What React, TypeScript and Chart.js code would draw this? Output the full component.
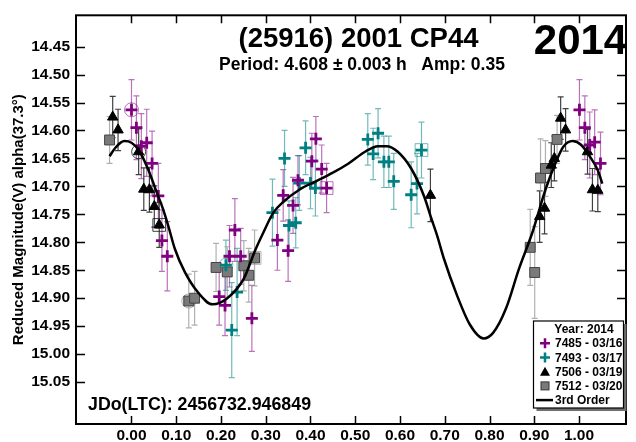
import React, { useEffect, useRef } from 'react';
import { Chart, registerables } from 'chart.js';

Chart.register(...registerables);

const FONT = '"Liberation Sans", Arial, Helvetica, sans-serif';

// ---- axis ticks ----
const X_TICKS = [0, 0.1, 0.2, 0.3, 0.4, 0.5, 0.6, 0.7, 0.8, 0.9, 1.0];
const Y_TICKS = [14.45, 14.5, 14.55, 14.6, 14.65, 14.7, 14.75, 14.8, 14.85, 14.9, 14.95, 15.0, 15.05];

// ---- session 7485 (03/16) ----
const s7485Phase = [0.0, 0.011, 0.022, 0.034, 0.046, 0.06, 0.068, 0.08, 0.196, 0.209, 0.219, 0.231, 0.244, 0.269, 0.326, 0.339, 0.35, 0.361, 0.372, 0.403, 0.412, 0.425, 0.436, 1.001, 1.013, 1.024, 1.035, 1.048];
const s7485Mag = [14.563, 14.595, 14.628, 14.622, 14.659, 14.717, 14.797, 14.825, 14.897, 14.913, 14.825, 14.778, 14.825, 14.936, 14.796, 14.716, 14.815, 14.734, 14.689, 14.655, 14.615, 14.669, 14.703, 14.563, 14.595, 14.626, 14.621, 14.659];
const s7485Err = [0.054, 0.057, 0.058, 0.06, 0.058, 0.058, 0.055, 0.062, 0.051, 0.054, 0.055, 0.056, 0.05, 0.059, 0.054, 0.046, 0.055, 0.05, 0.044, 0.05, 0.04, 0.043, 0.044, 0.054, 0.057, 0.059, 0.058, 0.056];

// ---- session 7493 (03/17) ----
const s7493Phase = [0.211, 0.224, 0.236, 0.315, 0.342, 0.352, 0.367, 0.375, 0.389, 0.4, 0.411, 0.528, 0.54, 0.551, 0.564, 0.575, 0.586, 0.625, 0.638, 0.648];
const s7493Mag = [14.841, 14.957, 14.889, 14.747, 14.65, 14.77, 14.765, 14.694, 14.631, 14.694, 14.703, 14.616, 14.642, 14.605, 14.656, 14.656, 14.691, 14.715, 14.695, 14.635];
const s7493Err = [0.045, 0.085, 0.078, 0.06, 0.05, 0.044, 0.045, 0.049, 0.048, 0.046, 0.05, 0.046, 0.046, 0.044, 0.046, 0.046, 0.05, 0.059, 0.054, 0.05];

// ---- session 7506 (03/19) ----
const s7506Phase = [-0.042, -0.03, 0.016, 0.0275, 0.04, 0.051, 0.062, 0.668, 0.912, 0.923, 0.938, 0.945, 0.959, 0.97, 1.019, 1.03, 1.042];
const s7506Mag = [14.576, 14.599, 14.638, 14.705, 14.706, 14.736, 14.769, 14.716, 14.754, 14.739, 14.662, 14.65, 14.578, 14.599, 14.638, 14.706, 14.707];
const s7506Err = [0.037, 0.037, 0.041, 0.038, 0.04, 0.037, 0.04, 0.047, 0.046, 0.046, 0.04, 0.04, 0.038, 0.038, 0.04, 0.038, 0.038];

// ---- session 7512 (03/20) ----
const s7512Phase = [-0.049, 0.128, 0.141, 0.189, 0.214, 0.251, 0.262, 0.275, 0.891, 0.901, 0.914, 0.925, 0.951];
const s7512Mag = [14.617, 14.905, 14.9, 14.845, 14.853, 14.842, 14.859, 14.828, 14.809, 14.854, 14.685, 14.668, 14.616];
const s7512Err = [0.042, 0.048, 0.048, 0.043, 0.045, 0.045, 0.048, 0.05, 0.068, 0.082, 0.07, 0.05, 0.043];

// ---- 3rd order fit curve ----
const fitPhase = [-0.049, -0.035, -0.016, 0.0, 0.016, 0.038, 0.057, 0.068, 0.082, 0.097, 0.119, 0.148, 0.181, 0.214, 0.251, 0.276, 0.295, 0.317, 0.339, 0.375, 0.412, 0.449, 0.485, 0.522, 0.551, 0.57, 0.595, 0.625, 0.654, 0.669, 0.683, 0.698, 0.727, 0.756, 0.787, 0.808, 0.837, 0.866, 0.896, 0.925, 0.947, 0.965, 0.986, 1.005, 1.027, 1.042, 1.052];
const fitMag = [14.646, 14.63, 14.619, 14.622, 14.635, 14.671, 14.712, 14.735, 14.77, 14.812, 14.853, 14.889, 14.911, 14.9, 14.865, 14.815, 14.782, 14.747, 14.728, 14.706, 14.691, 14.676, 14.659, 14.638, 14.628, 14.628, 14.638, 14.668, 14.718, 14.755, 14.788, 14.829, 14.894, 14.947, 14.972, 14.962, 14.918, 14.847, 14.782, 14.706, 14.659, 14.629, 14.619, 14.626, 14.65, 14.671, 14.695];

// session first / last point highlights (series key, index)
const circledPoints: [string, number][] = [['7485', 0], ['7493', 0], ['7506', 2], ['7512', 1]];
const boxedPoints: [string, number][] = [['7485', 22], ['7493', 19], ['7506', 6], ['7512', 7]];

const SERIES = [
  { key: '7485', label: '7485 - 03/16', phase: s7485Phase, mag: s7485Mag, err: s7485Err, color: '#800080', errColor: 'rgba(128,0,128,0.55)', style: 'cross' },
  { key: '7493', label: '7493 - 03/17', phase: s7493Phase, mag: s7493Mag, err: s7493Err, color: '#008080', errColor: 'rgba(0,128,128,0.55)', style: 'cross' },
  { key: '7506', label: '7506 - 03/19', phase: s7506Phase, mag: s7506Mag, err: s7506Err, color: '#000000', errColor: 'rgba(30,30,30,0.85)', style: 'triangle' },
  { key: '7512', label: '7512 - 03/20', phase: s7512Phase, mag: s7512Mag, err: s7512Err, color: '#7a7a7a', errColor: 'rgba(150,150,150,0.75)', style: 'rect' },
];

const TITLE = '(25916) 2001 CP44';
const SUBTITLE = 'Period: 4.608 \u00b1 0.003 h   Amp: 0.35';
const YEAR = '2014';
const JD_TEXT = 'JDo(LTC): 2456732.946849';
const Y_TITLE = 'Reduced Magnitude(V) alpha(37.3\u00b0)';
const LEGEND_TITLE = 'Year: 2014';
const FIT_LABEL = '3rd Order';

const seriesByKey = (k: string) => SERIES.find((s) => s.key === k)!;

const decorPlugin = {
  id: 'decor',
  beforeDatasetsDraw(chart: any) {
    const { ctx, chartArea, scales } = chart;
    const x = scales.x;
    const y = scales.y;
    ctx.save();
    ctx.beginPath();
    ctx.rect(chartArea.left, chartArea.top, chartArea.right - chartArea.left, chartArea.bottom - chartArea.top);
    ctx.clip();
    chart.data.datasets.forEach((ds: any) => {
      if (!ds.errors) return;
      ctx.strokeStyle = ds.errColor;
      ctx.lineWidth = 1.2;
      ds.data.forEach((p: any, i: number) => {
        const px = x.getPixelForValue(p.x);
        const y1 = y.getPixelForValue(p.y - ds.errors[i]);
        const y2 = y.getPixelForValue(p.y + ds.errors[i]);
        ctx.beginPath();
        ctx.moveTo(px, y1);
        ctx.lineTo(px, y2);
        ctx.moveTo(px - 3, y1);
        ctx.lineTo(px + 3, y1);
        ctx.moveTo(px - 3, y2);
        ctx.lineTo(px + 3, y2);
        ctx.stroke();
      });
    });
    ctx.restore();
  },
  afterDraw(chart: any) {
    const { ctx, chartArea, scales } = chart;
    const x = scales.x;
    const y = scales.y;
    const { left, right, top, bottom } = chartArea;
    ctx.save();
    // inner tick marks
    ctx.strokeStyle = '#000';
    ctx.lineWidth = 1.5;
    ctx.beginPath();
    X_TICKS.forEach((v) => {
      const px = Math.round(x.getPixelForValue(v)) + 0.5;
      ctx.moveTo(px, bottom);
      ctx.lineTo(px, bottom - 8);
      ctx.moveTo(px, top);
      ctx.lineTo(px, top + 8);
    });
    Y_TICKS.forEach((v) => {
      const py = Math.round(y.getPixelForValue(v)) + 0.5;
      ctx.moveTo(left, py);
      ctx.lineTo(left + 9, py);
      ctx.moveTo(right, py);
      ctx.lineTo(right - 9, py);
    });
    ctx.stroke();
    // frame
    ctx.lineWidth = 2;
    ctx.strokeRect(left, top, right - left, bottom - top);

    // titles
    ctx.fillStyle = '#000';
    ctx.textBaseline = 'alphabetic';
    ctx.textAlign = 'center';
    ctx.font = `bold 27.5px ${FONT}`;
    ctx.fillText(TITLE, 358.5, 47);
    ctx.font = `bold 17.5px ${FONT}`;
    ctx.fillText(SUBTITLE, 362, 69.5);
    ctx.font = `bold 42px ${FONT}`;
    ctx.fillText(YEAR, 580.5, 53.5);
    ctx.textAlign = 'left';
    ctx.font = `bold 17.8px ${FONT}`;
    ctx.fillText(JD_TEXT, 88, 409.5);

    // legend
    const lx = 533.5, ly = 321, lw = 90, lh = 87;
    ctx.fillStyle = '#6e6e6e';
    ctx.fillRect(lx + 3, ly + 3, lw, lh);
    ctx.fillStyle = '#fff';
    ctx.fillRect(lx, ly, lw, lh);
    ctx.strokeStyle = '#000';
    ctx.lineWidth = 1.2;
    ctx.strokeRect(lx, ly, lw, lh);

    ctx.fillStyle = '#000';
    ctx.font = `bold 12px ${FONT}`;
    ctx.textAlign = 'center';
    ctx.fillText(LEGEND_TITLE, 584, 332.7);
    ctx.textAlign = 'left';
    const rowY0 = 347.3;
    const rowStep = 14.2;
    const symX = 545;
    SERIES.forEach((s, i) => {
      const cy = rowY0 + i * rowStep - 4;
      ctx.fillStyle = '#000';
      ctx.fillText(s.label, 555, rowY0 + i * rowStep);
      if (s.style === 'cross') {
        ctx.strokeStyle = s.color;
        ctx.lineWidth = 2.5;
        ctx.beginPath();
        ctx.moveTo(symX - 5, cy);
        ctx.lineTo(symX + 5, cy);
        ctx.moveTo(symX, cy - 5);
        ctx.lineTo(symX, cy + 5);
        ctx.stroke();
      } else if (s.style === 'triangle') {
        ctx.fillStyle = '#000';
        ctx.beginPath();
        ctx.moveTo(symX, cy - 5);
        ctx.lineTo(symX + 5, cy + 4);
        ctx.lineTo(symX - 5, cy + 4);
        ctx.closePath();
        ctx.fill();
      } else {
        ctx.fillStyle = s.color;
        ctx.fillRect(symX - 4, cy - 4, 8, 8);
        ctx.strokeStyle = '#333';
        ctx.lineWidth = 1;
        ctx.strokeRect(symX - 4, cy - 4, 8, 8);
      }
    });
    const lineRowY = rowY0 + 4 * rowStep;
    ctx.strokeStyle = '#000';
    ctx.lineWidth = 2.5;
    ctx.beginPath();
    ctx.moveTo(536, lineRowY - 4);
    ctx.lineTo(553, lineRowY - 4);
    ctx.stroke();
    ctx.fillStyle = '#000';
    ctx.fillText(FIT_LABEL, 555, lineRowY);
    ctx.restore();
  },
};

export default function App() {
  const canvasRef = useRef<HTMLCanvasElement | null>(null);

  useEffect(() => {
    if (!canvasRef.current) return;

    const pointDatasets = SERIES.map((s) => ({
      label: s.label,
      data: s.phase.map((p, i) => ({ x: p, y: s.mag[i] })),
      errors: s.err,
      errColor: s.errColor,
      pointStyle: s.style,
      pointRadius: s.style === 'rect' ? 7 : 6,
      pointBorderWidth: s.style === 'cross' ? 2.8 : 1,
      borderColor: s.style === 'rect' ? '#444' : s.color,
      backgroundColor: s.color,
      order: 2,
    }));

    const highlight = (list: [string, number][], style: string, radius: number) => ({
      label: style + '-marks',
      data: list.map(([k, i]) => {
        const s = seriesByKey(k);
        return { x: s.phase[i], y: s.mag[i] };
      }),
      pointStyle: style,
      pointRadius: radius,
      pointBorderWidth: 1,
      borderColor: list.map(([k]) => seriesByKey(k).errColor),
      backgroundColor: 'rgba(0,0,0,0)',
      order: 3,
    });

    const chart = new Chart(canvasRef.current, {
      type: 'scatter',
      data: {
        datasets: [
          {
            label: FIT_LABEL,
            data: fitPhase.map((p, i) => ({ x: p, y: fitMag[i] })),
            showLine: true,
            borderColor: '#000',
            borderWidth: 2.5,
            pointRadius: 0,
            cubicInterpolationMode: 'monotone',
            order: 1,
          } as any,
          ...pointDatasets,
          highlight(circledPoints, 'circle', 7),
          highlight(boxedPoints, 'rect', 9),
        ],
      },
      options: {
        animation: false,
        responsive: false,
        events: [],
        devicePixelRatio: 1,
        layout: { padding: { left: 0, top: 10, right: 1, bottom: 0 } },
        plugins: { legend: { display: false }, tooltip: { enabled: false } },
        scales: {
          x: {
            type: 'linear',
            min: -0.124,
            max: 1.105,
            afterBuildTicks: (s: any) => {
              s.ticks = X_TICKS.map((v) => ({ value: v }));
            },
            afterFit: (s: any) => {
              s.height = 18;
            },
            grid: { display: false, drawTicks: false },
            border: { display: false },
            ticks: {
              autoSkip: false,
              maxRotation: 0,
              padding: 2,
              color: '#000',
              font: { family: FONT, size: 15.5, weight: 'bold' },
              callback: (v: any) => Number(v).toFixed(2),
            },
          },
          y: {
            type: 'linear',
            reverse: true,
            min: 14.394,
            max: 15.125,
            afterBuildTicks: (s: any) => {
              s.ticks = Y_TICKS.map((v) => ({ value: v }));
            },
            afterFit: (s: any) => {
              s.width = 76;
            },
            grid: { display: false, drawTicks: false },
            border: { display: false },
            title: {
              display: true,
              text: Y_TITLE,
              color: '#000',
              font: { family: FONT, size: 15, weight: 'bold' },
              padding: { top: 10, bottom: 0 },
            },
            ticks: {
              autoSkip: false,
              padding: 6,
              color: '#000',
              font: { family: FONT, size: 15.5, weight: 'bold' },
              callback: (v: any) => Number(v).toFixed(2),
            },
          },
        },
      } as any,
      plugins: [decorPlugin],
    });

    return () => chart.destroy();
  }, []);

  return (
    <div style={{ position: 'fixed', left: 0, top: 0, width: 636, height: 442, background: '#fff' }}>
      <canvas ref={canvasRef} width={636} height={442} style={{ display: 'block', width: 636, height: 442 }} />
    </div>
  );
}
